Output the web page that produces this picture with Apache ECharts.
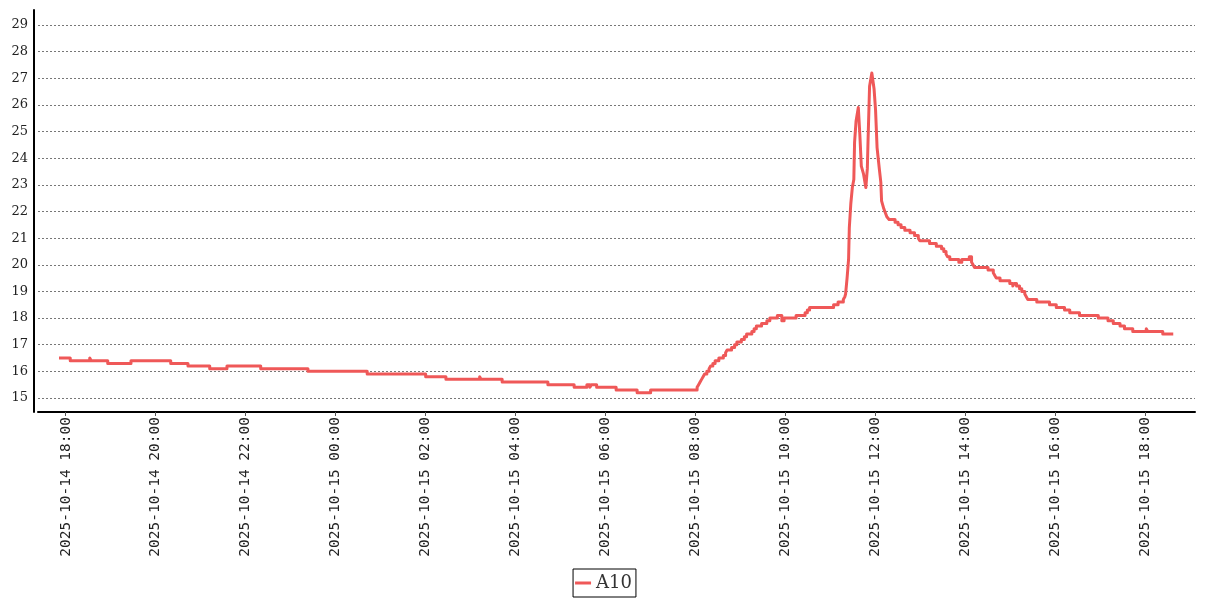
<!DOCTYPE html>
<html>
<head>
<meta charset="utf-8">
<script src="https://cdn.jsdelivr.net/npm/echarts@6/dist/echarts.min.js"></script>
<style>
html,body{margin:0;padding:0;background:#fff;}
#chart{width:1207px;height:600px;}
</style>
</head>
<body>
<div id="chart"></div>
<script>
// ---- data ----
const seriesName = 'A10';
// times at which the reading changes; each value holds until the next time
const times = [
 '2025-10-14 17:51','2025-10-14 18:06','2025-10-14 18:32','2025-10-14 18:34','2025-10-14 18:56',
 '2025-10-14 19:27','2025-10-14 20:20','2025-10-14 20:43','2025-10-14 21:12','2025-10-14 21:35',
 '2025-10-14 22:20','2025-10-14 23:23','2025-10-15 00:42','2025-10-15 02:00','2025-10-15 02:27',
 '2025-10-15 03:12','2025-10-15 03:14','2025-10-15 03:42','2025-10-15 04:43','2025-10-15 05:18',
 '2025-10-15 05:35','2025-10-15 05:39','2025-10-15 05:41','2025-10-15 05:48','2025-10-15 06:14',
 '2025-10-15 06:42','2025-10-15 07:00',
 '2025-10-15 08:02','2025-10-15 08:04','2025-10-15 08:06','2025-10-15 08:08','2025-10-15 08:10',
 '2025-10-15 08:12','2025-10-15 08:15','2025-10-15 08:18','2025-10-15 08:20','2025-10-15 08:23',
 '2025-10-15 08:26','2025-10-15 08:31','2025-10-15 08:37','2025-10-15 08:40','2025-10-15 08:42',
 '2025-10-15 08:48','2025-10-15 08:52','2025-10-15 08:55','2025-10-15 09:01','2025-10-15 09:05',
 '2025-10-15 09:08','2025-10-15 09:15','2025-10-15 09:18','2025-10-15 09:21','2025-10-15 09:28',
 '2025-10-15 09:35','2025-10-15 09:39','2025-10-15 09:49','2025-10-15 09:55','2025-10-15 09:58',
 '2025-10-15 10:14','2025-10-15 10:26','2025-10-15 10:29','2025-10-15 10:32','2025-10-15 11:04',
 '2025-10-15 11:10','2025-10-15 11:17','2025-10-15 11:19','2025-10-15 11:20',
 '2025-10-15 11:22','2025-10-15 11:24','2025-10-15 11:25','2025-10-15 11:27','2025-10-15 11:29',
 '2025-10-15 11:31','2025-10-15 11:32','2025-10-15 11:34','2025-10-15 11:37','2025-10-15 11:39',
 '2025-10-15 11:41','2025-10-15 11:44','2025-10-15 11:47','2025-10-15 11:49','2025-10-15 11:50',
 '2025-10-15 11:52','2025-10-15 11:55','2025-10-15 11:58','2025-10-15 12:00','2025-10-15 12:02',
 '2025-10-15 12:05','2025-10-15 12:07','2025-10-15 12:08','2025-10-15 12:11','2025-10-15 12:15',
 '2025-10-15 12:18','2025-10-15 12:26','2025-10-15 12:30','2025-10-15 12:34','2025-10-15 12:39',
 '2025-10-15 12:46','2025-10-15 12:52','2025-10-15 12:57','2025-10-15 12:59','2025-10-15 13:12',
 '2025-10-15 13:21','2025-10-15 13:28','2025-10-15 13:31','2025-10-15 13:34','2025-10-15 13:36',
 '2025-10-15 13:39','2025-10-15 13:51','2025-10-15 13:55','2025-10-15 14:05','2025-10-15 14:08',
 '2025-10-15 14:10','2025-10-15 14:12','2025-10-15 14:30','2025-10-15 14:37','2025-10-15 14:39',
 '2025-10-15 14:41','2025-10-15 14:46','2025-10-15 14:59','2025-10-15 15:03','2025-10-15 15:05',
 '2025-10-15 15:08','2025-10-15 15:12','2025-10-15 15:15','2025-10-15 15:19','2025-10-15 15:21',
 '2025-10-15 15:23','2025-10-15 15:35','2025-10-15 15:52','2025-10-15 16:01','2025-10-15 16:12',
 '2025-10-15 16:19','2025-10-15 16:32','2025-10-15 16:57','2025-10-15 17:10','2025-10-15 17:17',
 '2025-10-15 17:26','2025-10-15 17:32','2025-10-15 17:43','2025-10-15 18:01','2025-10-15 18:03',
 '2025-10-15 18:23','2025-10-15 18:37'
];
const values = [
 16.5,16.4,16.5,16.4,16.3,
 16.4,16.3,16.2,16.1,16.2,
 16.1,16.0,15.9,15.8,15.7,
 15.8,15.7,15.6,15.5,15.4,
 15.5,15.4,15.5,15.4,15.3,
 15.2,15.3,
 15.4,15.5,15.6,15.7,15.8,
 15.9,16.0,16.1,16.2,16.3,
 16.4,16.5,16.6,16.7,16.8,
 16.9,17.0,17.1,17.2,17.3,
 17.4,17.5,17.6,17.7,17.8,
 17.9,18.0,18.1,17.9,18.0,
 18.1,18.2,18.3,18.4,18.5,
 18.6,18.7,18.8,18.9,
 19.5,20.2,21.4,22.3,22.9,
 23.2,24.6,25.4,25.9,24.9,
 23.7,23.4,22.9,23.6,24.7,
 26.7,27.2,26.6,25.8,24.4,
 23.6,23.1,22.4,22.1,21.8,
 21.7,21.6,21.5,21.4,21.3,
 21.2,21.1,21.0,20.9,20.8,
 20.7,20.6,20.5,20.4,20.3,
 20.2,20.1,20.2,20.3,20.1,
 20.0,19.9,19.8,19.7,19.6,
 19.5,19.4,19.3,19.2,19.3,
 19.2,19.1,19.0,18.9,18.8,
 18.7,18.6,18.5,18.4,18.3,
 18.2,18.1,18.0,17.9,17.8,
 17.7,17.6,17.5,17.6,17.5,
 17.4,17.4
];
// during this window the readings change continuously (no holds)
const smoothWindow = ['2025-10-15 11:20','2025-10-15 12:18'];
const xTickTimes = [
 '2025-10-14 18:00','2025-10-14 20:00','2025-10-14 22:00','2025-10-15 00:00',
 '2025-10-15 02:00','2025-10-15 04:00','2025-10-15 06:00','2025-10-15 08:00',
 '2025-10-15 10:00','2025-10-15 12:00','2025-10-15 14:00','2025-10-15 16:00',
 '2025-10-15 18:00'
];
const xRange = ['2025-10-14 17:23','2025-10-15 19:06'];
const yRange = [14.475, 29.563];

// ---- build chart ----
const ts = s => new Date(s.replace(' ', 'T') + ':00').getTime();
const pad = n => (n < 10 ? '0' : '') + n;
const fmt = v => {
  const d = new Date(v);
  return d.getFullYear() + '-' + pad(d.getMonth() + 1) + '-' + pad(d.getDate()) +
         ' ' + pad(d.getHours()) + ':' + pad(d.getMinutes());
};
const sw0 = ts(smoothWindow[0]), sw1 = ts(smoothWindow[1]);
const data = [];
times.forEach((t, i) => {
  const x = ts(t);
  data.push([x, values[i]]);
  if (i < times.length - 1) {
    const xn = ts(times[i + 1]);
    const inSmooth = x >= sw0 && xn <= sw1;
    if (!inSmooth) data.push([xn, values[i]]); // hold value until next reading
  }
});
const tickVals = xTickTimes.map(ts);

const chart = echarts.init(document.getElementById('chart'), null, {renderer: 'canvas'});
chart.setOption({
  animation: false,
  backgroundColor: '#fff',
  textStyle: {fontFamily: 'DejaVu Serif'},
  grid: {left: 38, right: 12, top: 10, bottom: 188, containLabel: false},
  legend: {
    data: [{name: seriesName, icon: 'rect'}],
    bottom: 3,
    left: 'center',
    itemWidth: 16,
    itemHeight: 3,
    borderColor: '#000',
    borderWidth: 1,
    padding: [5, 4, 5, 2],
    textStyle: {fontFamily: 'DejaVu Serif', fontSize: 18, color: '#333'}
  },
  xAxis: {
    type: 'value',
    min: ts(xRange[0]),
    max: ts(xRange[1]),
    axisLine: {show: true, lineStyle: {color: '#000', width: 2}},
    axisTick: {show: true, length: 4, customValues: tickVals, lineStyle: {color: '#555'}},
    splitLine: {show: false},
    axisLabel: {
      customValues: tickVals,
      rotate: 90,
      margin: 5,
      fontFamily: 'DejaVu Sans Mono',
      fontSize: 14.5,
      color: '#222',
      formatter: v => fmt(v)
    }
  },
  yAxis: {
    type: 'value',
    min: yRange[0],
    max: yRange[1],
    offset: 4,
    splitNumber: 15,
    axisLine: {show: true, lineStyle: {color: '#000', width: 2}},
    axisTick: {show: false},
    axisLabel: {
      margin: 6,
      fontFamily: 'DejaVu Serif',
      fontSize: 13,
      color: '#222',
      showMinLabel: false,
      showMaxLabel: false
    },
    splitLine: {
      show: true,
      showMinLine: false,
      showMaxLine: false,
      lineStyle: {color: '#777', type: [2, 2], width: 1}
    }
  },
  series: [{
    name: seriesName,
    type: 'line',
    data: data,
    showSymbol: false,
    symbol: 'none',
    lineStyle: {color: '#ef5858', width: 3, join: 'round'},
    itemStyle: {color: '#ef5858'}
  }]
});
</script>
</body>
</html>
